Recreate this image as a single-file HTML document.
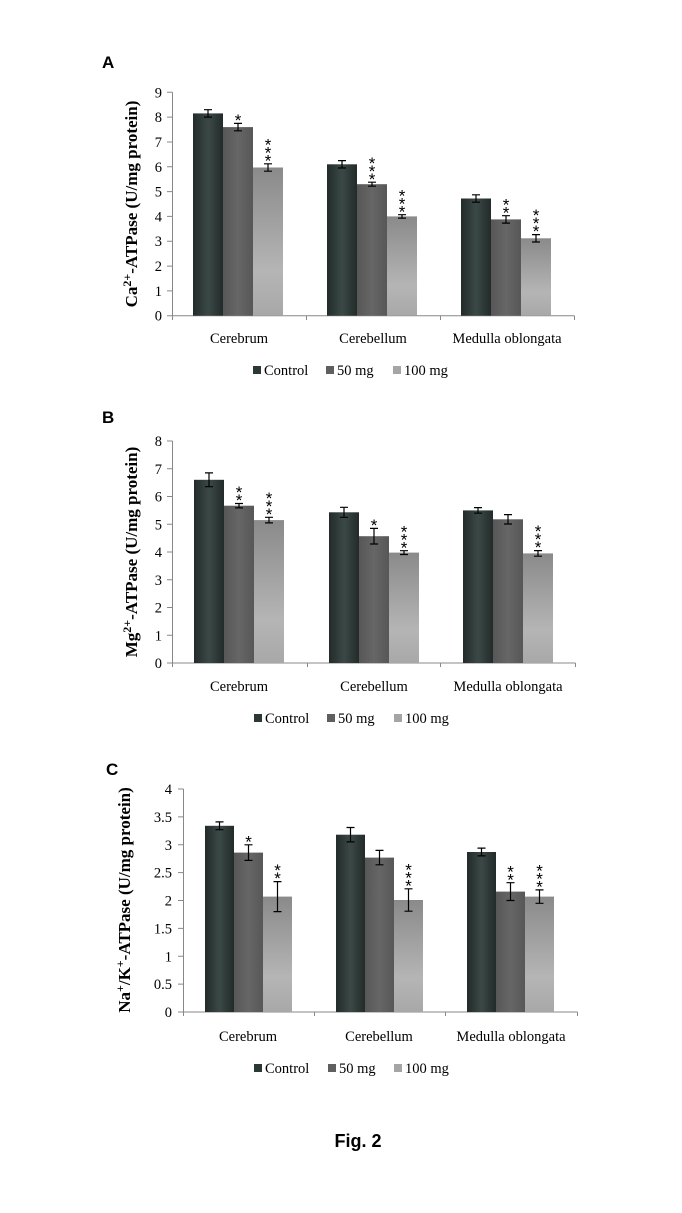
<!DOCTYPE html>
<html><head><meta charset="utf-8"><style>
html,body{margin:0;padding:0;background:#fff;}
svg{display:block;}
.t{font-family:"Liberation Serif",serif;font-size:14.5px;fill:#000;}
.yt{font-family:"Liberation Serif",serif;font-size:14.5px;text-anchor:end;}
.st{font-family:"Liberation Sans",sans-serif;font-size:17px;text-anchor:middle;}
.ax{stroke:#888;stroke-width:1;fill:none;}
.eb{stroke:#000;stroke-width:1.2;fill:none;}
.pl{font-family:"Liberation Sans",sans-serif;font-weight:bold;font-size:17px;}
.yl{font-family:"Liberation Serif",serif;font-weight:bold;font-size:17px;text-anchor:middle;}
</style></head><body>
<svg width="682" height="1213" viewBox="0 0 682 1213" xmlns="http://www.w3.org/2000/svg">
<defs>
<linearGradient id="gc" x1="0" x2="1" y1="0" y2="0"><stop offset="0" stop-color="#222b29"/><stop offset="0.5" stop-color="#3b4946"/><stop offset="1" stop-color="#222b29"/></linearGradient>
<linearGradient id="gm" x1="0" x2="1" y1="0" y2="0"><stop offset="0" stop-color="#575757"/><stop offset="0.5" stop-color="#666"/><stop offset="1" stop-color="#575757"/></linearGradient>
<linearGradient id="gh" x1="0" x2="0" y1="0" y2="1"><stop offset="0" stop-color="#8a8a8a"/><stop offset="0.7" stop-color="#b5b5b5"/><stop offset="1" stop-color="#a8a8a8"/></linearGradient>
</defs>

<!-- ===== A ===== -->
<text class="pl" x="102" y="68">A</text>
<text class="yl" transform="translate(137,204) rotate(-90)">Ca<tspan font-size="12" dy="-6">2+</tspan><tspan dy="6">-ATPase (U/mg protein)</tspan></text>
<g>
<text class="yt" x="162" y="320.7">0</text><text class="yt" x="162" y="295.9">1</text><text class="yt" x="162" y="271.1">2</text><text class="yt" x="162" y="246.2">3</text><text class="yt" x="162" y="221.4">4</text><text class="yt" x="162" y="196.6">5</text><text class="yt" x="162" y="171.8">6</text><text class="yt" x="162" y="147">7</text><text class="yt" x="162" y="122.1">8</text><text class="yt" x="162" y="97.3">9</text>
<path class="ax" d="M172.5 92.3V315.7M167 315.7H172.5M167 290.9H172.5M167 266.1H172.5M167 241.2H172.5M167 216.4H172.5M167 191.6H172.5M167 166.8H172.5M167 142H172.5M167 117.1H172.5M167 92.3H172.5M172.5 315.7H574.5M172.5 315.7V320M306.5 315.7V320M440.5 315.7V320M574.5 315.7V320"/>
<rect x="193" y="113.4" width="30" height="202.3" fill="url(#gc)"/><rect x="223" y="127.1" width="30" height="188.6" fill="url(#gm)"/><rect x="253" y="167.5" width="30" height="148.2" fill="url(#gh)"/>
<rect x="327" y="164.3" width="30" height="151.4" fill="url(#gc)"/><rect x="357" y="184.2" width="30" height="131.5" fill="url(#gm)"/><rect x="387" y="216.4" width="30" height="99.3" fill="url(#gh)"/>
<rect x="461" y="198.5" width="30" height="117.2" fill="url(#gc)"/><rect x="491" y="219.4" width="30" height="96.3" fill="url(#gm)"/><rect x="521" y="238.3" width="30" height="77.4" fill="url(#gh)"/>
<path class="eb" d="M208 109.7V117.1M204 109.7H212M204 117.1H212M238 123.4V130.8M234 123.4H242M234 130.8H242M268 163.8V171.2M264 163.8H272M264 171.2H272M342 160.6V168M338 160.6H346M338 168H346M372 182.2V186.2M368 182.2H376M368 186.2H376M402 214.7V218.1M398 214.7H406M398 218.1H406M476 194.8V202.2M472 194.8H480M472 202.2H480M506 215.7V223.1M502 215.7H510M502 223.1H510M536 234.6V242M532 234.6H540M532 242H540"/>
<text class="st" x="238" y="126">*</text>
<text class="st" x="268" y="166.4">*</text><text class="st" x="268" y="158.4">*</text><text class="st" x="268" y="150.4">*</text>
<text class="st" x="372" y="184.8">*</text><text class="st" x="372" y="176.8">*</text><text class="st" x="372" y="168.8">*</text>
<text class="st" x="402" y="217.3">*</text><text class="st" x="402" y="209.3">*</text><text class="st" x="402" y="201.3">*</text>
<text class="st" x="506" y="218.3">*</text><text class="st" x="506" y="210.3">*</text>
<text class="st" x="536" y="237.2">*</text><text class="st" x="536" y="229.2">*</text><text class="st" x="536" y="221.2">*</text>
<text class="t" x="239" y="343" text-anchor="middle">Cerebrum</text><text class="t" x="373" y="343" text-anchor="middle">Cerebellum</text><text class="t" x="507" y="343" text-anchor="middle">Medulla oblongata</text>
<rect x="253" y="366" width="8" height="8" fill="#2b3835"/><text class="t" x="264" y="375">Control</text>
<rect x="326" y="366" width="8" height="8" fill="#5f5f5f"/><text class="t" x="337" y="375">50 mg</text>
<rect x="393" y="366" width="8" height="8" fill="#a5a5a5"/><text class="t" x="404" y="375">100 mg</text>
</g>

<!-- ===== B ===== -->
<text class="pl" x="102" y="423">B</text>
<text class="yl" transform="translate(137,552) rotate(-90)">Mg<tspan font-size="12" dy="-6">2+</tspan><tspan dy="6">-ATPase (U/mg protein)</tspan></text>
<g>
<text class="yt" x="162" y="668">0</text><text class="yt" x="162" y="640.25">1</text><text class="yt" x="162" y="612.5">2</text><text class="yt" x="162" y="584.75">3</text><text class="yt" x="162" y="557">4</text><text class="yt" x="162" y="529.25">5</text><text class="yt" x="162" y="501.5">6</text><text class="yt" x="162" y="473.75">7</text><text class="yt" x="162" y="446">8</text>
<path class="ax" d="M172.5 441V663M167 663H172.5M167 635.25H172.5M167 607.5H172.5M167 579.75H172.5M167 552H172.5M167 524.25H172.5M167 496.5H172.5M167 468.75H172.5M167 441H172.5M172.5 663H575.5M172.5 663V667M307.5 663V667M440.5 663V667M575.5 663V667"/>
<rect x="194" y="479.8" width="30" height="183.2" fill="url(#gc)"/><rect x="224" y="505.7" width="30" height="157.3" fill="url(#gm)"/><rect x="254" y="520.1" width="30" height="142.9" fill="url(#gh)"/>
<rect x="329" y="512.3" width="30" height="150.7" fill="url(#gc)"/><rect x="359" y="536.2" width="30" height="126.8" fill="url(#gm)"/><rect x="389" y="552.6" width="30" height="110.4" fill="url(#gh)"/>
<rect x="463" y="510.4" width="30" height="152.6" fill="url(#gc)"/><rect x="493" y="519.3" width="30" height="143.7" fill="url(#gm)"/><rect x="523" y="553.4" width="30" height="109.6" fill="url(#gh)"/>
<path class="eb" d="M209 472.9V486.7M205 472.9H213M205 486.7H213M239 503.5V507.9M235 503.5H243M235 507.9H243M269 517.3V522.9M265 517.3H273M265 522.9H273M344 507.3V517.3M340 507.3H348M340 517.3H348M374 528.4V544M370 528.4H378M370 544H378M404 550.7V554.5M400 550.7H408M400 554.5H408M478 507.6V513.2M474 507.6H482M474 513.2H482M508 514.6V524M504 514.6H512M504 524H512M538 550.6V556.2M534 550.6H542M534 556.2H542"/>
<text class="st" x="239" y="506.1">*</text><text class="st" x="239" y="498.1">*</text>
<text class="st" x="269" y="519.9">*</text><text class="st" x="269" y="511.9">*</text><text class="st" x="269" y="503.9">*</text>
<text class="st" x="374" y="531">*</text>
<text class="st" x="404" y="553.3">*</text><text class="st" x="404" y="545.3">*</text><text class="st" x="404" y="537.3">*</text>
<text class="st" x="538" y="553.2">*</text><text class="st" x="538" y="545.2">*</text><text class="st" x="538" y="537.2">*</text>
<text class="t" x="239" y="691" text-anchor="middle">Cerebrum</text><text class="t" x="374" y="691" text-anchor="middle">Cerebellum</text><text class="t" x="508" y="691" text-anchor="middle">Medulla oblongata</text>
<rect x="254" y="714" width="8" height="8" fill="#2b3835"/><text class="t" x="265" y="723">Control</text>
<rect x="327" y="714" width="8" height="8" fill="#5f5f5f"/><text class="t" x="338" y="723">50 mg</text>
<rect x="394" y="714" width="8" height="8" fill="#a5a5a5"/><text class="t" x="405" y="723">100 mg</text>
</g>

<!-- ===== C ===== -->
<text class="pl" x="106" y="775">C</text>
<text class="yl" transform="translate(130,900) rotate(-90)">Na<tspan font-size="12" dy="-6">+</tspan><tspan dy="6">/K</tspan><tspan font-size="12" dy="-6">+</tspan><tspan dy="6">-ATPase (U/mg protein)</tspan></text>
<g>
<text class="yt" x="172" y="1017">0</text><text class="yt" x="172" y="989.1">0.5</text><text class="yt" x="172" y="961.25">1</text><text class="yt" x="172" y="933.4">1.5</text><text class="yt" x="172" y="905.5">2</text><text class="yt" x="172" y="877.6">2.5</text><text class="yt" x="172" y="849.75">3</text><text class="yt" x="172" y="821.9">3.5</text><text class="yt" x="172" y="794">4</text>
<path class="ax" d="M183.5 789V1012M178 1012H183.5M178 984.1H183.5M178 956.25H183.5M178 928.4H183.5M178 900.5H183.5M178 872.6H183.5M178 844.75H183.5M178 816.9H183.5M178 789H183.5M183.5 1012H577.5M183.5 1012V1016M314.5 1012V1016M445.5 1012V1016M577.5 1012V1016"/>
<rect x="205" y="825.8" width="29" height="186.2" fill="url(#gc)"/><rect x="234" y="852.6" width="29" height="159.4" fill="url(#gm)"/><rect x="263" y="896.6" width="29" height="115.4" fill="url(#gh)"/>
<rect x="336" y="834.7" width="29" height="177.3" fill="url(#gc)"/><rect x="365" y="857.6" width="29" height="154.4" fill="url(#gm)"/><rect x="394" y="900" width="29" height="112" fill="url(#gh)"/>
<rect x="467" y="852" width="29" height="160" fill="url(#gc)"/><rect x="496" y="891.6" width="29" height="120.4" fill="url(#gm)"/><rect x="525" y="896.6" width="29" height="115.4" fill="url(#gh)"/>
<path class="eb" d="M219.5 821.9V829.7M215.5 821.9H223.5M215.5 829.7H223.5M248.5 844.8V860.4M244.5 844.8H252.5M244.5 860.4H252.5M277.5 881.6V911.6M273.5 881.6H281.5M273.5 911.6H281.5M350.5 827.5V841.9M346.5 827.5H354.5M346.5 841.9H354.5M379.5 850.4V864.8M375.5 850.4H383.5M375.5 864.8H383.5M408.5 888.8V911.2M404.5 888.8H412.5M404.5 911.2H412.5M481.5 848.1V855.9M477.5 848.1H485.5M477.5 855.9H485.5M510.5 882.7V900.5M506.5 882.7H514.5M506.5 900.5H514.5M539.5 889.9V903.3M535.5 889.9H543.5M535.5 903.3H543.5"/>
<text class="st" x="248.5" y="847.4">*</text>
<text class="st" x="277.5" y="884.2">*</text><text class="st" x="277.5" y="876.2">*</text>
<text class="st" x="408.5" y="891.4">*</text><text class="st" x="408.5" y="883.4">*</text><text class="st" x="408.5" y="875.4">*</text>
<text class="st" x="510.5" y="885.3">*</text><text class="st" x="510.5" y="877.3">*</text>
<text class="st" x="539.5" y="892.5">*</text><text class="st" x="539.5" y="884.5">*</text><text class="st" x="539.5" y="876.5">*</text>
<text class="t" x="248" y="1041" text-anchor="middle">Cerebrum</text><text class="t" x="379" y="1041" text-anchor="middle">Cerebellum</text><text class="t" x="511" y="1041" text-anchor="middle">Medulla oblongata</text>
<rect x="254" y="1064" width="8" height="8" fill="#2b3835"/><text class="t" x="265" y="1073">Control</text>
<rect x="328" y="1064" width="8" height="8" fill="#5f5f5f"/><text class="t" x="339" y="1073">50 mg</text>
<rect x="394" y="1064" width="8" height="8" fill="#a5a5a5"/><text class="t" x="405" y="1073">100 mg</text>
</g>

<text x="358" y="1147" text-anchor="middle" font-family="Liberation Sans, sans-serif" font-weight="bold" font-size="18">Fig. 2</text>
</svg>
</body></html>
